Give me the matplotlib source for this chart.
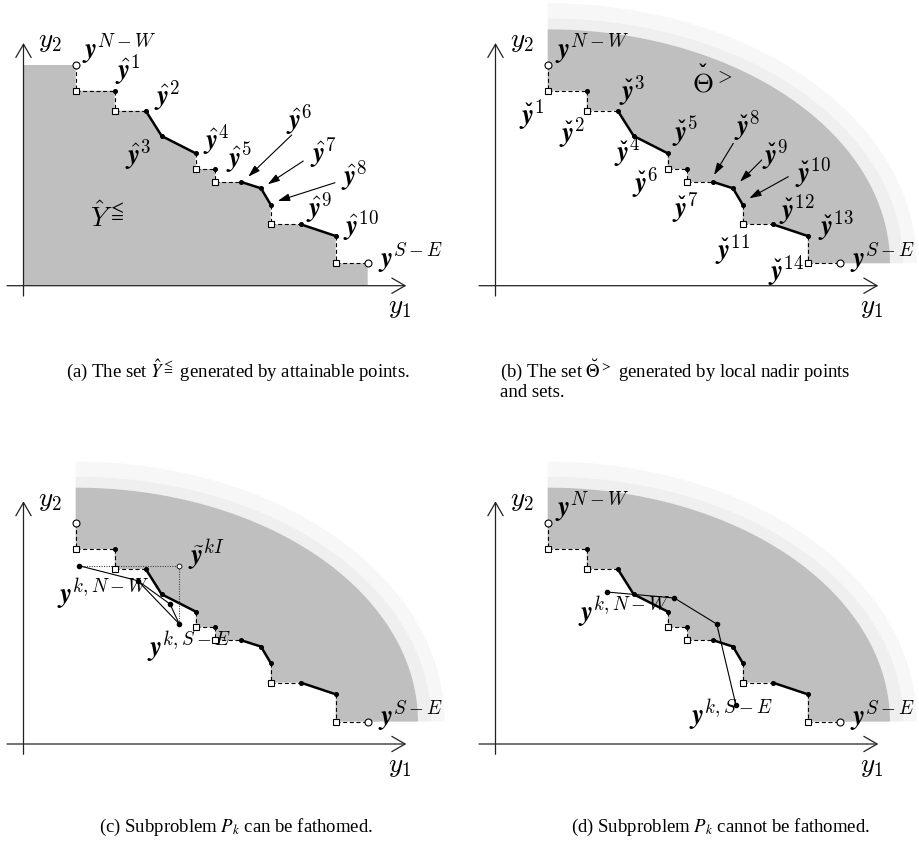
"""Four-panel sketch: attainable points, local nadir set and fathoming of P_k."""
import numpy as np
import matplotlib
matplotlib.use("Agg")
import matplotlib.pyplot as plt
from matplotlib.patches import Polygon, FancyArrowPatch

plt.rcParams["mathtext.fontset"] = "cm"

W, H = 920, 846
LBL = 19.5
CARON = "\u02c7"

# staircase NW -> SE (units = 10 px in the original drawing)
front_u = [5.22, 5.22, 9.12, 9.12, 12.22, 13.82, 17.22, 17.22, 19.18, 19.18,
           21.78, 23.75, 24.72, 24.72, 27.72, 31.22, 31.22, 34.42]
front_v = [22.07, 19.5, 19.5, 17.5, 17.5, 14.97, 13.24, 11.67, 11.67, 10.37,
           10.37, 9.74, 8.1, 6.14, 6.14, 4.97, 2.24, 2.24]
# o = end point, s = local nadir, . = attainable point
front_kind = ["o", "s", ".", "s", ".", ".", ".", "s", ".", "s",
              ".", ".", ".", "s", ".", ".", "s", "o"]
# d = dashed link, e = nondominated edge
seg_kind = ["d", "d", "d", "d", "e", "e", "d", "d", "d", "d",
            "e", "e", "d", "d", "e", "d", "d"]

# quarter-ellipse bands for the Theta set, outer to inner: (semi u, semi v, colour)
band_a = [36.9, 35.56, 34.23]
band_b = [26.0, 24.5, 23.4]
band_col = ["#f7f7f7", "#efefef", "#bfbfbf"]

# labels (a)
lab_a = [(r"$\mathbfit{y}^{N-W}$", 5.82, 22.77),
         (r"$\hat{\mathbfit{y}}^{1}$", 9.15, 20.74),
         (r"$\hat{\mathbfit{y}}^{2}$", 13.08, 18.07),
         (r"$\hat{\mathbfit{y}}^{3}$", 10.15, 12.24),
         (r"$\hat{\mathbfit{y}}^{4}$", 17.98, 13.74),
         (r"$\hat{\mathbfit{y}}^{5}$", 20.25, 11.9),
         (r"$\hat{\mathbfit{y}}^{6}$", 26.25, 15.74),
         (r"$\hat{\mathbfit{y}}^{7}$", 28.65, 12.4),
         (r"$\hat{\mathbfit{y}}^{8}$", 31.72, 10.07),
         (r"$\hat{\mathbfit{y}}^{9}$", 28.25, 6.9),
         (r"$\hat{\mathbfit{y}}^{10}$", 31.98, 5.07),
         (r"$\mathbfit{y}^{S-E}$", 35.48, 1.9),
         (r"$\hat{Y}^{\leqq}$", 6.65, 5.9)]
arr_a = [((26.82, 15.07), (22.48, 10.9)),
         ((27.98, 12.47), (24.42, 10.14)),
         ((31.15, 10.3), (25.42, 8.47))]

# labels (b); the local nadir labels carry a caron
lab_b = [(r"$\mathbfit{y}^{N-W}$", 5.95, 22.74),
         (r"$\mathbfit{y}^{S-E}$", 35.45, 1.9)]
theta_b = (r"$\Theta^{>}$", 19.62, 19.4)
chk_idx = list(range(1, 15))
chk_u = [2.38, 6.38, 12.38, 11.85, 17.62, 13.62, 17.62, 23.85, 26.62, 29.95,
         21.95, 28.38, 32.28, 27.28]
chk_v = [16.24, 14.4, 18.64, 12.47, 14.5, 9.41, 6.9, 15.07, 12.24, 10.4,
         2.74, 6.74, 5.07, 0.57]
arr_b = [((23.78, 14.24), (21.85, 11.07)),
         ((26.62, 12.57), (24.45, 10.4)),
         ((29.28, 10.9), (25.38, 8.74))]

# subproblem P_k frontier, (c) fathomed and (d) not fathomed
sub_c_u = [5.55, 11.42, 14.65, 15.58]
sub_c_v = [17.83, 16.33, 14.0, 12.0]
ideal_c = (15.58, 17.83)
lab_c = [(r"$\tilde{\mathbfit{y}}^{kI}$", 16.48, 17.9),
         (r"$\mathbfit{y}^{k,N-W}$", 3.32, 14.07),
         (r"$\mathbfit{y}^{k,S-E}$", 12.32, 8.73),
         (r"$\mathbfit{y}^{S-E}$", 35.48, 1.9)]

sub_d_u = [11.12, 17.88, 22.12, 24.05]
sub_d_v = [15.2, 14.6, 12.0, 3.87]
lab_d = [(r"$\mathbfit{y}^{N-W}$", 5.95, 22.73),
         (r"$\mathbfit{y}^{k,N-W}$", 8.28, 12.23),
         (r"$\mathbfit{y}^{k,S-E}$", 19.33, 1.9),
         (r"$\mathbfit{y}^{S-E}$", 35.45, 1.9)]

captions = [(r"(a) The set $\hat{Y}^{\leqq}$ generated by attainable points.", 237.5, 376.7, "center"),
            (r"(b) The set $\breve{\Theta}^{>}$ generated by local nadir points", 500, 376.7, "left"),
            ("and sets.", 500, 396.7, "left"),
            (r"(c) Subproblem $P_k$ can be fathomed.", 236.3, 831.7, "center"),
            (r"(d) Subproblem $P_k$ cannot be fathomed.", 721, 831.7, "center")]


def make_axes(fig, left, top):
    ax = fig.add_axes([left / W, 1 - (top + 330) / H, 448 / W, 330 / H])
    ax.set_xlim(-2.35, 42.45)
    ax.set_ylim(-4.43, 28.57)
    ax.axis("off")
    return ax


def draw_frame(ax):
    for a, b in [((-1.65, 0), (38.28, 0)), ((0, -1.03), (0, 24.27))]:
        ax.add_patch(FancyArrowPatch(a, b, arrowstyle="->,head_length=0.95,head_width=0.55",
                                     mutation_scale=10, lw=0.9, color="#222222",
                                     shrinkA=0, shrinkB=0, zorder=5))
    ax.text(1.48, 23.85, r"$y_2$", fontsize=LBL, va="baseline", zorder=6)
    ax.text(36.5, -2.77, r"$y_1$", fontsize=LBL, va="baseline", zorder=6)


def draw_front(ax):
    for i, k in enumerate(seg_kind):
        xs, ys = front_u[i:i + 2], front_v[i:i + 2]
        if k == "e":
            ax.plot(xs, ys, color="k", lw=1.8, solid_capstyle="round", zorder=3)
        else:
            ax.plot(xs, ys, color="k", lw=0.8, dashes=(3.6, 2.4), zorder=3)
    for u, v, k in zip(front_u, front_v, front_kind):
        if k == "s":
            ax.plot(u, v, "s", ms=5, mfc="white", mec="k", mew=0.8, zorder=4)
        elif k == "o":
            ax.plot(u, v, "o", ms=5, mfc="white", mec="k", mew=0.8, zorder=4)
        else:
            ax.plot(u, v, "o", ms=2.6, color="k", zorder=4)


def draw_theta(ax):
    cu, cv = front_u[0], front_v[-1]
    t = np.linspace(np.pi / 2, 0, 200)
    stair = np.column_stack([front_u, front_v])[::-1]
    for i, (a, b, c) in enumerate(zip(band_a, band_b, band_col)):
        outer = np.column_stack([cu + a * np.cos(t), cv + b * np.sin(t)])
        if i + 1 < len(band_a):
            inner = np.column_stack([cu + band_a[i + 1] * np.cos(t),
                                     cv + band_b[i + 1] * np.sin(t)])[::-1]
        else:
            inner = stair
        ax.add_patch(Polygon(np.vstack([outer, inner]), closed=True, fc=c,
                             ec="none", zorder=1))


def put_labels(ax, labels):
    for s, u, v in labels:
        ax.text(u, v, s, fontsize=LBL, ha="left", va="baseline", zorder=6)


def put_caron(ax, u, v):
    ax.text(u, v, CARON, fontsize=14, family="DejaVu Serif", weight="bold",
            ha="center", va="baseline", zorder=6)


def put_arrows(ax, arrows):
    for a, b in arrows:
        ax.add_patch(FancyArrowPatch(a, b, arrowstyle="-|>,head_length=0.8,head_width=0.25",
                                     mutation_scale=9, lw=0.8, color="k",
                                     shrinkA=0, shrinkB=0, zorder=5))


fig = plt.figure(figsize=(W / 100, H / 100), dpi=100)

# (a)
ax = make_axes(fig, 0, 0)
poly = [(0, front_v[0])] + list(zip(front_u, front_v)) + [(front_u[-1], 0), (0, 0)]
ax.add_patch(Polygon(poly, closed=True, fc="#bfbfbf", ec="none", zorder=1))
draw_front(ax)
draw_frame(ax)
put_labels(ax, lab_a)
put_arrows(ax, arr_a)

# (b)
ax = make_axes(fig, 472, 0)
draw_theta(ax)
draw_front(ax)
draw_frame(ax)
put_labels(ax, lab_b)
put_labels(ax, [theta_b])
put_caron(ax, theta_b[1] + 1.05, theta_b[2] + 1.3)
put_labels(ax, [(r"$\mathbfit{y}^{%d}$" % i, u, v) for i, u, v in zip(chk_idx, chk_u, chk_v)])
for u, v in zip(chk_u, chk_v):
    put_caron(ax, u + 0.95, v + 0.55)
put_arrows(ax, arr_b)

# (c)
ax = make_axes(fig, 0, 458.3)
draw_theta(ax)
draw_front(ax)
draw_frame(ax)
ax.plot([sub_c_u[0], ideal_c[0], sub_c_u[-1]], [sub_c_v[0], ideal_c[1], sub_c_v[-1]],
        color="#444444", lw=0.8, ls=(0, (1, 1.2)), zorder=3)
ax.plot(sub_c_u, sub_c_v, color="k", lw=0.8, zorder=3)
ax.plot([sub_c_u[1], sub_c_u[3]], [sub_c_v[1], sub_c_v[3]], color="k", lw=0.8, zorder=3)
ax.plot(sub_c_u, sub_c_v, "o", ms=3, color="k", zorder=4)
ax.plot(*ideal_c, "o", ms=3.5, mfc="white", mec="k", mew=0.6, zorder=4)
put_labels(ax, lab_c)

# (d)
ax = make_axes(fig, 472, 458.3)
draw_theta(ax)
draw_front(ax)
draw_frame(ax)
ax.plot(sub_d_u, sub_d_v, color="k", lw=0.8, zorder=3)
ax.plot(sub_d_u, sub_d_v, "o", ms=3, color="k", zorder=4)
put_labels(ax, lab_d)

for s, x, y, ha in captions:
    fig.text(x / W, 1 - y / H, s, fontsize=13.5, family="Liberation Serif",
             math_fontfamily="stix", ha=ha, va="baseline")

fig.savefig("out.png", dpi=100)
